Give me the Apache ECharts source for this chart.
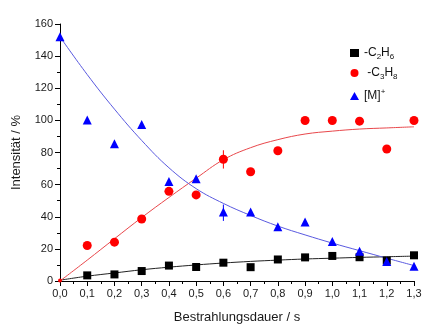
<!DOCTYPE html>
<html>
<head>
<meta charset="utf-8">
<script src="https://cdn.jsdelivr.net/npm/echarts@6/dist/echarts.min.js"></script>
<style>
html,body{margin:0;padding:0;background:#fff;}
#chart{width:426px;height:329px;}
</style>
</head>
<body>
<div id="chart"></div>
<script>
// ---- data ----
const xValues = [0.0, 0.1, 0.2, 0.3, 0.4, 0.5, 0.6, 0.7, 0.8, 0.9, 1.0, 1.1, 1.2, 1.3];
const c2h6 = [null, 3.5, 4.1, 6.2, 9.6, 8.7, 11.4, 8.6, 13.4, 14.7, 15.6, 14.8, 12.7, 16.0];
const c3h8 = [0.3, 22.1, 24.2, 38.6, 55.8, 53.6, 75.8, 68.0, 81.1, 99.9, 99.9, 99.5, 82.2, 99.9];
const mPlus = [152, 100.2, 85.5, 97.4, 62.0, 63.6, 42.9, 42.9, 33.8, 36.7, 24.6, 18.5, 12.1, 9.2];
// fit curves
const c2h6Fit = [0.5, 3.0, 5.0, 7.0, 8.6, 10.0, 11.2, 12.2, 13.0, 13.7, 14.2, 14.7, 15.1, 15.5];
const c3h8Fit = [0.0, 13.0, 26.3, 39.5, 52.0, 64.0, 75.5, 83.0, 88.0, 91.5, 93.3, 94.6, 95.3, 96.0];
const mPlusFit = [152, 128.5, 107, 87.5, 70.5, 57.5, 48.3, 40.8, 34.2, 28.7, 23.6, 18.9, 14.2, 9.6];
// error bars [x, low, high]
const c3h8Err = [[0.6, 70.0, 81.4]];
const mPlusErr = [[0.6, 37.4, 47.6]];

const xTicks = {min: 0, max: 1.3, interval: 0.1};
const yTicks = {min: 0, max: 160, interval: 20};

const pair = (ys) => xValues.map((x, i) => [x, ys[i]]).filter(p => p[1] !== null);

const FONT = '"Liberation Sans", Arial, sans-serif';
const RED = '#ff0000', BLUE = '#0000ff', BLACK = '#000000';

function errSeries(data, color) {
  return {
    type: 'custom',
    data: data,
    z: 3,
    silent: true,
    renderItem: function (params, api) {
      const p1 = api.coord([api.value(0), api.value(1)]);
      const p2 = api.coord([api.value(0), api.value(2)]);
      return {type: 'line', shape: {x1: p1[0], y1: p1[1], x2: p2[0], y2: p2[1]},
              style: {stroke: color, lineWidth: 1}};
    }
  };
}

const chart = echarts.init(document.getElementById('chart'), null, {renderer: 'canvas'});
const axisCommon = {
  axisLine: {show: true, onZero: false, lineStyle: {color: '#000', width: 1}},
  axisTick: {show: true, inside: false, length: 5, lineStyle: {color: '#000'}},
  minorTick: {show: true, splitNumber: 2, length: 3, lineStyle: {color: '#000'}},
  splitLine: {show: false},
  axisLabel: {color: '#1a1a1a', fontFamily: FONT, fontSize: 11},
  nameTextStyle: {color: '#1a1a1a', fontFamily: FONT, fontSize: 13}
};

chart.setOption({
  animation: false,
  backgroundColor: '#fff',
  grid: {left: 60, right: 12, top: 24, bottom: 45, containLabel: false},
  legend: {
    data: ['C2H6', 'C3H8', 'M'],
    orient: 'vertical',
    left: 345, top: 42,
    itemWidth: 9, itemHeight: 8, itemGap: 5,
    formatter: function (name) {
      if (name === 'C2H6') return '{m|-C}{s|2}{m|H}{s|6}';
      if (name === 'C3H8') return '{m| -C}{s|3}{m|H}{s|8}';
      return '{m|[M]}{p|+}';
    },
    textStyle: {
      fontFamily: FONT, color: '#111',
      rich: {
        m: {fontSize: 12, fontFamily: FONT, color: '#111', lineHeight: 18, verticalAlign: 'middle'},
        s: {fontSize: 8, fontFamily: FONT, color: '#111', lineHeight: 18, verticalAlign: 'bottom', padding: [0, 0, 1, 0]},
        p: {fontSize: 8, fontFamily: FONT, color: '#111', lineHeight: 18, verticalAlign: 'top', padding: [1, 0, 0, 0]}
      }
    }
  },
  xAxis: Object.assign({}, axisCommon, {
    type: 'value', min: xTicks.min, max: xTicks.max, interval: xTicks.interval,
    name: 'Bestrahlungsdauer / s', nameLocation: 'middle', nameGap: 30,
    axisLabel: Object.assign({}, axisCommon.axisLabel, {
      margin: 7,
      formatter: v => v.toFixed(1).replace('.', ',')
    })
  }),
  yAxis: Object.assign({}, axisCommon, {
    type: 'value', min: yTicks.min, max: yTicks.max, interval: yTicks.interval,
    name: 'Intensität / %', nameLocation: 'middle', nameGap: 37,
    axisLabel: Object.assign({}, axisCommon.axisLabel, {margin: 7})
  }),
  series: [
    {name: 'C2H6fit', type: 'line', data: pair(c2h6Fit), smooth: 0.4, showSymbol: false, symbol: 'none',
     lineStyle: {color: '#222', width: 1}, z: 2, silent: true},
    {name: 'C3H8fit', type: 'line', data: pair(c3h8Fit), smooth: 0.4, showSymbol: false, symbol: 'none',
     lineStyle: {color: '#e8474b', width: 1}, z: 2, silent: true},
    {name: 'Mfit', type: 'line', data: pair(mPlusFit), smooth: 0.4, showSymbol: false, symbol: 'none',
     lineStyle: {color: '#5a5ae0', width: 1}, z: 2, silent: true},
    errSeries(c3h8Err, RED),
    errSeries(mPlusErr, BLUE),
    {name: 'C2H6', type: 'scatter', data: pair(c2h6), symbol: 'rect', symbolSize: 8,
     itemStyle: {color: BLACK, opacity: 1}, z: 4},
    {name: 'C3H8', type: 'scatter', data: pair(c3h8).map(p => p[0] === 0 ? {value: p, symbolSize: 4} : p),
     symbol: 'circle', symbolSize: 9, itemStyle: {color: RED, opacity: 1}, z: 4},
    {name: 'M', type: 'scatter', data: pair(mPlus), symbol: 'triangle', symbolSize: 9,
     itemStyle: {color: BLUE, opacity: 1}, z: 4}
  ]
});
</script>
</body>
</html>
